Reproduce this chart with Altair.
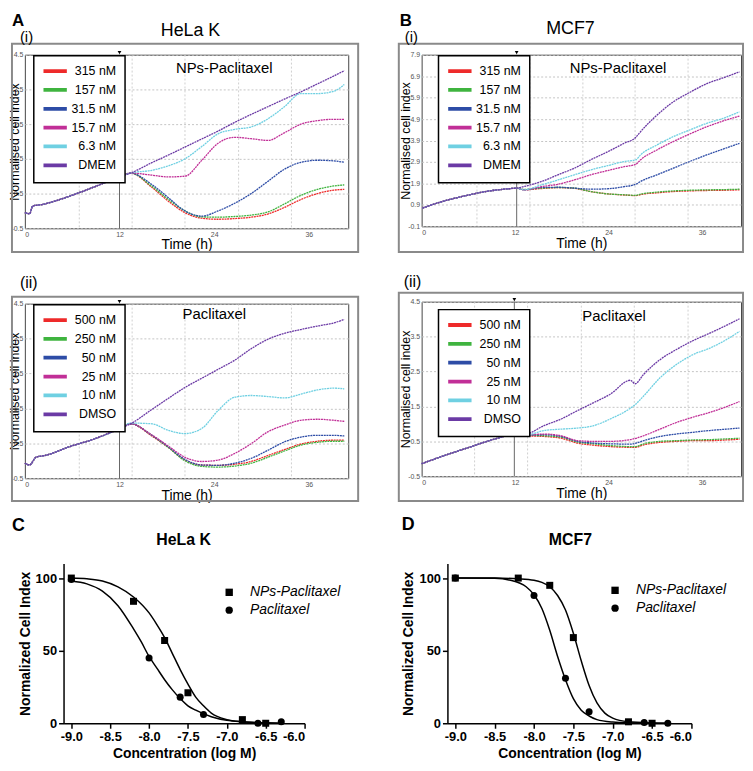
import altair as alt
import pandas as pd

FONT = "Liberation Sans"
COLORS = ["#ee2a2a", "#3fb43f", "#2d4ca6", "#c12f97", "#6fd0e2", "#6b3aa5"]

# ---------------- A(i) HeLa K, NPs-Paclitaxel ----------------
A1_names = ["315  nM", "157  nM", "31.5 nM", "15.7 nM", "6.3  nM", "DMEM"]
A1_pre_t = [0.0, 0.6, 1.0, 2.3, 5.6, 9.0, 12.0]
A1_pre_v = [-0.05, -0.08, 0.14, 0.19, 0.42, 0.71, 0.98]
A1_t = [13.4, 16.1, 18.2, 20.3, 22.4, 24.5, 26.6, 28.7, 30.8, 32.9, 35.0, 37.1, 39.2, 40.5]
A1_red = [1.09, 0.68, 0.28, -0.05, -0.21, -0.24, -0.22, -0.18, -0.09, 0.10, 0.33, 0.50, 0.60, 0.62]
A1_green = [1.09, 0.71, 0.33, 0.00, -0.17, -0.18, -0.16, -0.12, -0.03, 0.20, 0.45, 0.62, 0.72, 0.75]
A1_blue = [1.09, 0.76, 0.38, 0.00, -0.15, 0.00, 0.22, 0.50, 0.85, 1.20, 1.40, 1.46, 1.44, 1.40]
A1_magenta = [1.09, 1.03, 0.98, 1.00, 1.45, 1.95, 2.12, 2.08, 2.03, 2.25, 2.50, 2.60, 2.64, 2.64]
A1_cyan = [1.09, 1.17, 1.30, 1.50, 1.85, 2.22, 2.35, 2.42, 2.65, 3.00, 3.38, 3.38, 3.45, 3.64]
A1_purple = [1.09, 1.39, 1.61, 1.84, 2.07, 2.30, 2.55, 2.78, 3.00, 3.22, 3.43, 3.66, 3.89, 4.04]
A1_grid = [6.9, 13.6, 20.3, 27.1, 33.8]
A1_treat = 12.0

# ---------------- A(ii) HeLa K, Paclitaxel ----------------
A2_names = ["500 nM", "250 nM", "50 nM", "25 nM", "10 nM", "DMSO"]
A2_pre_t = [0.0, 0.6, 1.4, 2.7, 5.6, 9.0, 12.0]
A2_pre_v = [-0.07, -0.12, 0.10, 0.16, 0.40, 0.64, 0.92]
A2_t = [13.4, 16.1, 18.2, 20.3, 22.4, 24.5, 26.6, 28.7, 30.8, 32.9, 35.0, 37.1, 39.2, 40.5]
A2_red = [1.06, 0.71, 0.38, 0.02, -0.12, -0.13, -0.10, -0.02, 0.15, 0.32, 0.48, 0.56, 0.59, 0.59]
A2_green = [1.06, 0.73, 0.38, 0.00, -0.16, -0.18, -0.15, -0.07, 0.10, 0.28, 0.45, 0.53, 0.56, 0.56]
A2_blue = [1.06, 0.73, 0.40, 0.04, -0.12, -0.13, -0.07, 0.07, 0.30, 0.54, 0.68, 0.73, 0.73, 0.71]
A2_magenta = [1.06, 0.74, 0.42, 0.10, -0.02, 0.02, 0.21, 0.49, 0.83, 1.02, 1.16, 1.19, 1.16, 1.13]
A2_cyan = [1.08, 1.06, 0.87, 0.78, 0.92, 1.44, 1.82, 1.87, 1.84, 1.80, 1.91, 2.03, 2.08, 2.06]
A2_purple = [1.06, 1.47, 1.79, 2.10, 2.36, 2.62, 2.88, 3.21, 3.48, 3.65, 3.76, 3.86, 3.95, 4.05]
A2_grid = [6.9, 13.6, 20.3, 27.1, 33.8]
A2_treat = 12.0

# ---------------- B(i) MCF7, NPs-Paclitaxel ----------------
B1_pre_t = [0.1, 2.7, 5.2, 8.2, 11.1, 12.2]
B1_pre_v = [0.75, 1.06, 1.29, 1.52, 1.65, 1.68]
B1_t = [13.1, 15.4, 17.5, 19.6, 21.7, 23.9, 26.0, 27.5, 28.1, 30.2, 32.3, 34.4, 36.6, 38.7, 40.8]
B1_red = [1.60, 1.66, 1.70, 1.67, 1.52, 1.41, 1.36, 1.33, 1.38, 1.46, 1.52, 1.55, 1.57, 1.58, 1.60]
B1_green = [1.62, 1.68, 1.71, 1.68, 1.52, 1.41, 1.37, 1.34, 1.40, 1.49, 1.55, 1.58, 1.60, 1.61, 1.63]
B1_blue = [1.60, 1.71, 1.72, 1.68, 1.63, 1.65, 1.75, 1.86, 1.99, 2.30, 2.61, 2.92, 3.23, 3.50, 3.77]
B1_magenta = [1.60, 1.75, 1.86, 2.06, 2.30, 2.50, 2.68, 2.79, 3.00, 3.46, 3.85, 4.20, 4.54, 4.81, 5.04]
B1_cyan = [1.60, 1.83, 2.06, 2.30, 2.53, 2.73, 2.92, 3.00, 3.23, 3.69, 4.08, 4.39, 4.70, 4.93, 5.24]
B1_purple = [1.75, 1.99, 2.30, 2.61, 3.00, 3.38, 3.77, 4.05, 4.31, 5.08, 5.70, 6.14, 6.55, 6.82, 7.10]
B1_grid = [7.1, 13.9, 20.7, 27.4, 34.2]
B1_treat = 12.2

# ---------------- B(ii) MCF7, Paclitaxel ----------------
B2_pre_t = [0.0, 3.0, 6.4, 9.4, 11.9, 12.5]
B2_pre_v = [-0.14, 0.10, 0.35, 0.57, 0.71, 0.74]
B2_t = [13.4, 15.7, 17.9, 20.0, 22.1, 24.2, 26.8, 27.4, 28.5, 30.6, 32.7, 34.8, 37.0, 39.1, 40.8]
B2_red = [0.66, 0.64, 0.59, 0.45, 0.39, 0.35, 0.33, 0.33, 0.40, 0.47, 0.50, 0.52, 0.52, 0.54, 0.56]
B2_green = [0.68, 0.66, 0.62, 0.48, 0.43, 0.38, 0.35, 0.35, 0.43, 0.50, 0.52, 0.54, 0.55, 0.57, 0.59]
B2_blue = [0.68, 0.69, 0.64, 0.50, 0.45, 0.43, 0.42, 0.44, 0.52, 0.64, 0.71, 0.76, 0.81, 0.85, 0.88]
B2_magenta = [0.68, 0.71, 0.66, 0.52, 0.50, 0.50, 0.55, 0.58, 0.66, 0.85, 1.04, 1.19, 1.33, 1.49, 1.64]
B2_cyan = [0.68, 0.81, 0.85, 0.88, 0.95, 1.14, 1.45, 1.55, 1.80, 2.32, 2.70, 2.98, 3.17, 3.41, 3.65]
B2_purple = [0.72, 0.95, 1.14, 1.38, 1.61, 1.85, 2.25, 2.15, 2.42, 2.84, 3.13, 3.38, 3.60, 3.82, 4.01]
B2_grid = [6.8, 13.6, 20.5, 27.3, 34.2]
B2_treat = 11.9

# ---------------- C / D dose response ----------------
DOSE_NAMES = ["NPs-Paclitaxel", "Paclitaxel"]
C_nps_x = [-9.0, -8.2, -7.8, -7.5, -6.8, -6.5]
C_nps_y = [100, 84, 57, 21, 2.5, 0]
C_pac_x = [-9.0, -8.0, -7.6, -7.3, -6.6, -6.3]
C_pac_y = [99, 45, 18, 6, 0, 1]
C_fit_nps_x = [-9.0, -8.8, -8.6, -8.4, -8.2, -8.0, -7.9, -7.8, -7.7, -7.6, -7.5, -7.4, -7.3, -7.2, -7.0, -6.8, -6.5, -6.3]
C_fit_nps_y = [100, 99.5, 98, 94, 87, 76, 68, 59, 48, 37, 27, 18, 12, 7, 2.5, 1, 0.2, 0]
C_fit_pac_x = [-9.0, -8.8, -8.6, -8.4, -8.2, -8.1, -8.0, -7.9, -7.8, -7.7, -7.6, -7.5, -7.4, -7.2, -7.0, -6.8, -6.5, -6.3]
C_fit_pac_y = [98, 96, 91, 81, 65, 56, 46, 38, 30, 23, 17, 12, 9, 4.5, 2, 1, 0.3, 0]

D_nps_x = [-9.0, -8.2, -7.8, -7.5, -6.8, -6.5]
D_nps_y = [100, 100, 95, 59, 1, 0]
D_pac_x = [-9.0, -8.0, -7.6, -7.3, -6.6, -6.3]
D_pac_y = [100, 88, 31, 8, 0.5, 0]
D_fit_nps_x = [-9.0, -8.5, -8.2, -8.0, -7.9, -7.8, -7.7, -7.6, -7.5, -7.4, -7.3, -7.2, -7.1, -7.0, -6.8, -6.5, -6.3]
D_fit_nps_y = [100, 100, 99.5, 98.5, 97, 94, 88, 78, 62, 43, 26, 14, 7, 3.5, 1, 0.2, 0]
D_fit_pac_x = [-9.0, -8.5, -8.3, -8.1, -8.0, -7.9, -7.8, -7.7, -7.6, -7.5, -7.4, -7.3, -7.2, -7.0, -6.8, -6.3]
D_fit_pac_y = [100, 99.8, 98.5, 94, 88.5, 79, 64, 46, 30, 17, 9, 5, 2.5, 0.8, 0.3, 0]

X_TICKS_LOG = [-9.0, -8.5, -8.0, -7.5, -7.0, -6.5, -6.0]
NEG_LABEL = "datum.value < 0 ? '-' + format(-datum.value, '.1f') : format(datum.value, '.1f')"
LEGEND_STROKE = "M-1.35,0H4.2"


def cell_layer(x0, x1, y0, y1):
    return alt.Chart(pd.DataFrame({"k": [0]})).mark_rect(fill="white", opacity=0).encode(
        x=alt.value(x0), x2=alt.value(x1), y=alt.value(y0), y2=alt.value(y1))


def frame_layer(x0, x1, y0, y1):
    return alt.Chart(pd.DataFrame({"k": [0]})).mark_rect(
        filled=False, stroke="#8a8a8a", strokeWidth=2).encode(
        x=alt.value(x0), x2=alt.value(x1), y=alt.value(y0), y2=alt.value(y1))


def txt(s, x, y, size, weight="normal", align="left"):
    return alt.Chart(pd.DataFrame({"s": [s]})).mark_text(
        font=FONT, fontSize=size, fontWeight=weight, align=align, baseline="middle",
        color="black").encode(x=alt.value(x), y=alt.value(y), text="s:N")


def top_panel(names, pre_t, pre_v, post_t, series, ydom, yvals, treat_t, grid_t,
              w, h, cell, frame, leg, texts, ytitle_x, xtitle_y):
    rows = []
    for n, vals in zip(names, series):
        for t, v in zip(pre_t, pre_v):
            rows.append((t, v, n))
        for t, v in zip(post_t, vals):
            rows.append((t, v, n))
    df = pd.DataFrame(rows, columns=["t", "v", "s"])
    xs = alt.Scale(domain=[0, 41], nice=False, zero=False)
    ys = alt.Scale(domain=ydom, nice=False, zero=False)
    xax = alt.Axis(values=[0, 12, 24, 36], title="Time (h)", grid=False, ticks=False, domain=False,
                   labelFontSize=7, labelColor="#555", labelPadding=2, labelFont=FONT,
                   titleFont=FONT, titleFontSize=14, titleFontWeight="normal", titleColor="black",
                   titleY=xtitle_y, titleBaseline="middle")
    yax = alt.Axis(values=yvals, labelExpr=NEG_LABEL, grid=True, gridDash=[2, 2], gridColor="#c4c4c4",
                   ticks=False, domain=False, labelFontSize=7, labelColor="#555", labelPadding=2,
                   labelFont=FONT, title="Normalised cell index", titleFont=FONT, titleFontSize=12.5,
                   titleFontWeight="normal", titleColor="black", titleX=ytitle_x, titleY=h / 2,
                   titleBaseline="middle")
    grid = alt.Chart(pd.DataFrame({"t": grid_t})).mark_rule(
        color="#c4c4c4", strokeDash=[2, 2], strokeWidth=0.8).encode(
        x=alt.X("t:Q", scale=xs, axis=xax))
    treat = alt.Chart(pd.DataFrame({"t": [treat_t]})).mark_rule(color="#666666", strokeWidth=1).encode(
        x=alt.X("t:Q", scale=xs, axis=xax))
    tri = alt.Chart(pd.DataFrame({"t": [treat_t]})).mark_point(
        shape="triangle-down", size=14, filled=True, color="black", opacity=1).encode(
        x=alt.X("t:Q", scale=xs, axis=xax), y=alt.value(-2))
    lines = alt.Chart(df).mark_line(strokeWidth=1.3, strokeDash=[2, 0.7], interpolate="monotone").encode(
        x=alt.X("t:Q", scale=xs, axis=xax),
        y=alt.Y("v:Q", scale=ys, axis=yax),
        color=alt.Color("s:N", scale=alt.Scale(domain=names, range=COLORS),
                        legend=alt.Legend(orient="none", legendX=leg[0], legendY=leg[1], title=None,
                                          fillColor="white", strokeColor="black", padding=9,
                                          symbolType=LEGEND_STROKE, symbolStrokeWidth=3.8, symbolSize=72,
                                          symbolDash=[1, 0], labelAlign="right",
                                          labelFontSize=12.5, labelFont=FONT, labelColor="black",
                                          rowPadding=2, labelOffset=61)))
    layers = [cell_layer(*cell), grid, treat, lines, tri, frame_layer(*frame)]
    layers += [txt(*t) for t in texts]
    return alt.layer(*layers).properties(
        width=w, height=h, view=alt.ViewBackground(stroke="#444444", strokeWidth=1))


def dose_panel(px1, py1, px2, py2, cx1, cy1, cx2, cy2, w, xr0, h, cell, texts, ytitle_x, leg):
    pts = pd.DataFrame({"x": px1 + px2, "y": py1 + py2,
                        "s": [DOSE_NAMES[0]] * len(px1) + [DOSE_NAMES[1]] * len(px2)})
    cur = pd.DataFrame({"x": cx1 + cx2, "y": cy1 + cy2,
                        "s": [DOSE_NAMES[0]] * len(cx1) + [DOSE_NAMES[1]] * len(cx2)})
    xs = alt.Scale(domain=[-9.1, -6.0], range=[xr0, w], nice=False, zero=False)
    ys = alt.Scale(domain=[0, 110], nice=False, zero=False)
    common = dict(domainColor="black", domainWidth=1.5, tickColor="black", tickWidth=1.5, tickSize=5,
                  labelFontSize=13, labelFontWeight="bold", labelColor="black", labelFont=FONT,
                  titleFont=FONT, titleFontSize=14, titleFontWeight="bold", titleColor="black",
                  grid=False, labelPadding=2, titleBaseline="middle")
    xax = alt.Axis(values=X_TICKS_LOG, labelExpr=NEG_LABEL, title="Concentration (log M)",
                   titleY=31, **common)
    yax = alt.Axis(values=[0, 50, 100], title="Normalized Cell Index", titleX=ytitle_x,
                   titleY=h / 2, offset=-xr0, **common)
    curves = alt.Chart(cur).mark_line(color="black", strokeWidth=1.5, interpolate="monotone").encode(
        x=alt.X("x:Q", scale=xs, axis=xax), y=alt.Y("y:Q", scale=ys, axis=yax), detail="s:N")
    points = alt.Chart(pts).mark_point(filled=True, color="black", size=50, opacity=1).encode(
        x=alt.X("x:Q", scale=xs, axis=xax), y=alt.Y("y:Q", scale=ys, axis=yax),
        shape=alt.Shape("s:N", scale=alt.Scale(domain=DOSE_NAMES, range=["square", "circle"]),
                        legend=alt.Legend(orient="none", legendX=leg[0], legendY=leg[1], title=None,
                                          padding=0, symbolSize=55, symbolFillColor="black",
                                          symbolStrokeColor="black", labelFontSize=14,
                                          labelFontStyle="italic", labelFont=FONT,
                                          labelColor="black", rowPadding=4, labelOffset=14)))
    layers = [cell_layer(*cell), curves, points] + [txt(*t) for t in texts]
    return alt.layer(*layers).properties(width=w, height=h)


# left column: plot origin at page x 22 ; right column: plot origin at page x 420
A1 = top_panel(A1_names, A1_pre_t, A1_pre_v, A1_t,
               [A1_red, A1_green, A1_blue, A1_magenta, A1_cyan, A1_purple],
               [-0.5, 4.5], [-0.5, 0.5, 1.5, 2.5, 3.5, 4.5], A1_treat, A1_grid,
               326, 175, (-14, 350, -42, 208), (-13, 336, -11, 199), (9, 1),
               [("A", -13, -34, 17, "bold"), ("(i)", -5, -18, 15),
                ("HeLa K", 167, -24, 18, "normal", "center"),
                ("NPs-Paclitaxel", 201, 13, 15, "normal", "center")], -10, 16)

A2 = top_panel(A2_names, A2_pre_t, A2_pre_v, A2_t,
               [A2_red, A2_green, A2_blue, A2_magenta, A2_cyan, A2_purple],
               [-0.5, 4.5], [-0.5, 0.5, 1.5, 2.5, 3.5, 4.5], A2_treat, A2_grid,
               326, 176, (-14, 350, -41, 206), (-13, 336, -7, 199), (9, 1),
               [("(ii)", -5, -21, 16),
                ("Paclitaxel", 191, 10, 15, "normal", "center")], -10, 17)

B1 = top_panel(A1_names, B1_pre_t, B1_pre_v, B1_t,
               [B1_red, B1_green, B1_blue, B1_magenta, B1_cyan, B1_purple],
               [-0.1, 7.9], [-0.1, 0.9, 1.9, 2.9, 3.9, 4.9, 5.9, 6.9, 7.9], B1_treat, B1_grid,
               322, 173, (-48, 325, -42, 208), (-23, 324, -11, 199), (17, 1),
               [("B", -22, -34, 17, "bold"), ("(i)", -17, -18, 15),
                ("MCF7", 150, -26, 18, "normal", "center"),
                ("NPs-Paclitaxel", 198, 13, 15, "normal", "center")], -16, 17)

B2 = top_panel(A2_names, B2_pre_t, B2_pre_v, B2_t,
               [B2_red, B2_green, B2_blue, B2_magenta, B2_cyan, B2_purple],
               [-0.5, 4.5], [-0.5, 0.5, 1.5, 2.5, 3.5, 4.5], B2_treat, B2_grid,
               322, 176, (-48, 325, -39, 208), (-23, 324, -9, 201), (17, 8),
               [("(ii)", -18, -20, 16),
                ("Paclitaxel", 194, 14, 15, "normal", "center")], -16, 17)

C = dose_panel(C_nps_x, C_nps_y, C_pac_x, C_pac_y, C_fit_nps_x, C_fit_nps_y, C_fit_pac_x, C_fit_pac_y,
               282, 39, 161, (-14, 350, -55, 200),
               [("C", -13, -38, 18, "bold"), ("HeLa K", 160, -24, 16, "bold", "center")], -38, (199, 22))

D = dose_panel(D_nps_x, D_nps_y, D_pac_x, D_pac_y, D_fit_nps_x, D_fit_nps_y, D_fit_pac_x, D_fit_pac_y,
               272, 26, 161, (-48, 325, -55, 200),
               [("D", -20, -39, 18, "bold"), ("MCF7", 150, -24, 16, "bold", "center")], -39, (188, 20))

left = alt.vconcat(A1, A2, C, spacing=0).resolve_scale(color="independent", shape="independent")
right = alt.vconcat(B1, B2, D, spacing=0).resolve_scale(color="independent", shape="independent")
chart = alt.hconcat(left, right, spacing=0).resolve_scale(
    color="independent", shape="independent").properties(padding=0, background="white").configure(
    font=FONT).configure_view(strokeWidth=0).configure_legend(strokeWidth=1.5)

chart.save("out.html", embed_options={"renderer": "svg", "actions": False})
